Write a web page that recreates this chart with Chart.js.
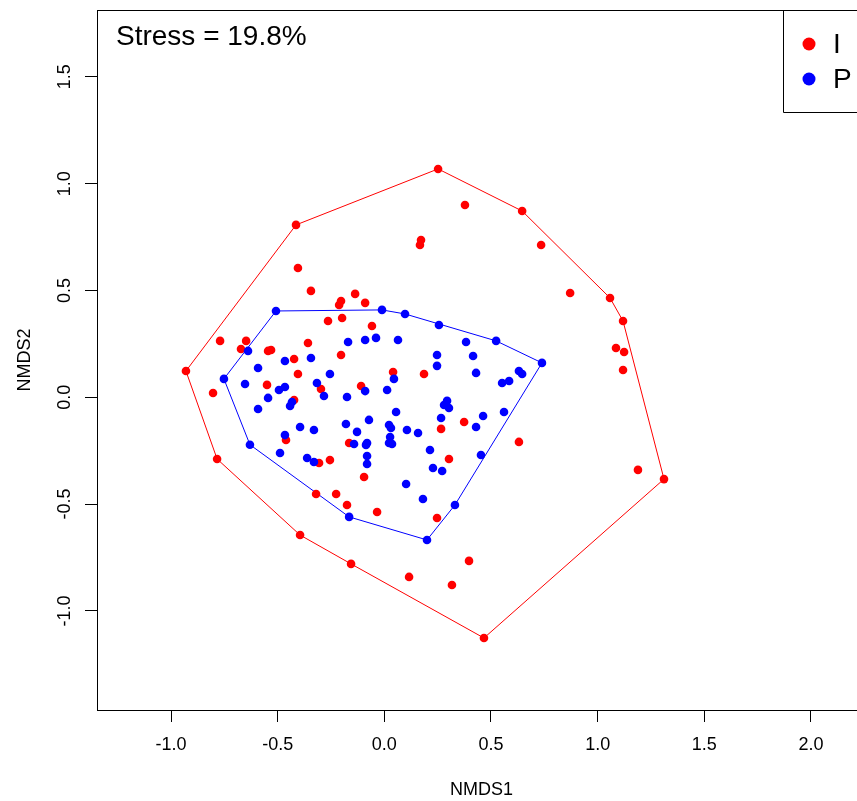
<!DOCTYPE html>
<html>
<head>
<meta charset="utf-8">
<title>NMDS ordination</title>
<script src="https://cdn.jsdelivr.net/npm/chart.js@4.4.1/dist/chart.umd.min.js"></script>
<style>
  html, body { margin: 0; padding: 0; background: #fff; overflow: hidden; }
  #wrap { width: 857px; height: 801px; overflow: hidden; }
</style>
</head>
<body>
<div id="wrap"><canvas id="nmds" width="876" height="801"></canvas></div>
<script>
// groups and site scores (NMDS1 / NMDS2)
const groups = ['I', 'P'];
const groupColors = ['#ff0000', '#0000ff'];
const stressLabel = 'Stress = 19.8%';

const iX = [-0.930, -0.414, 0.252, 0.646, 1.058, 1.119, 1.311, 0.467, -0.156, -0.395,
  -0.784, -0.405, -0.344, -0.203, -0.212, -0.137, -0.090, -0.264, -0.198, -0.058,
  0.172, 0.167, 0.378, 0.735, 0.871, 1.086, 1.124, 1.119, 1.189, 0.631,
  0.374, 0.266, 0.303, 0.186, 0.041, -0.109, -0.297, -0.203, -0.358, -0.423,
  -0.405, -0.550, -0.545, -0.531, -0.648, -0.672, -0.770, -0.803, -0.423, -0.461,
  -0.165, -0.306, -0.255, -0.095, -0.320, -0.226, -0.175, -0.034, 0.247, 0.116,
  0.397, 0.317];
const iY = [0.123, 0.807, 1.069, 0.872, 0.465, 0.357, -0.383, -1.127, -0.780, -0.645,
  -0.289, 0.605, 0.498, 0.451, 0.432, 0.484, 0.442, 0.357, 0.371, 0.334,
  0.736, 0.713, 0.900, 0.713, 0.488, 0.231, 0.212, 0.128, -0.340, -0.209,
  -0.116, -0.148, -0.289, 0.109, 0.118, 0.053, 0.039, 0.198, 0.254, 0.179,
  0.109, 0.058, 0.217, 0.221, 0.264, 0.226, 0.264, 0.020, -0.013, -0.200,
  -0.214, -0.308, -0.294, -0.373, -0.453, -0.453, -0.504, -0.537, -0.565, -0.841,
  -0.766, -0.879];

const pX = [-0.508, -0.011, 0.097, 0.256, 0.524, 0.739, 0.331, 0.200, -0.165, -0.630,
  -0.752, -0.170, -0.090, -0.039, 0.064, -0.639, -0.466, -0.344, -0.592, -0.255,
  -0.653, -0.545, -0.494, -0.466, -0.316, -0.283, -0.175, -0.090, 0.013, 0.045,
  -0.592, -0.442, -0.433, 0.055, -0.395, -0.330, -0.180, -0.072, -0.128, 0.022,
  0.031, -0.466, -0.142, -0.081, -0.086, 0.027, 0.022, 0.036, -0.489, -0.362,
  -0.330, -0.081, -0.081, 0.383, 0.247, 0.247, 0.416, 0.430, 0.631, 0.646,
  0.552, 0.585, 0.294, 0.280, 0.303, 0.266, 0.463, 0.561, 0.430, 0.106,
  0.158, 0.214, 0.453, 0.228, 0.271, 0.102, 0.181];
const pY = [0.404, 0.409, 0.390, 0.338, 0.264, 0.161, -0.504, -0.668, -0.560, -0.222,
  0.086, 0.259, 0.268, 0.278, 0.268, 0.217, 0.170, 0.184, 0.137, 0.109,
  0.062, -0.003, 0.034, 0.048, 0.067, 0.006, 0.001, 0.029, 0.034, 0.086,
  -0.055, -0.041, -0.022, -0.069, -0.139, -0.153, -0.125, -0.106, -0.162, -0.130,
  -0.144, -0.177, -0.219, -0.214, -0.223, -0.186, -0.214, -0.219, -0.261, -0.284,
  -0.303, -0.275, -0.312, 0.259, 0.198, 0.147, 0.193, 0.114, 0.123, 0.109,
  0.067, 0.076, -0.017, -0.036, -0.050, -0.097, -0.088, -0.069, -0.139, -0.153,
  -0.167, -0.247, -0.270, -0.331, -0.345, -0.406, -0.476];

const xTicks = [-1.0, -0.5, 0.0, 0.5, 1.0, 1.5, 2.0];
const yTicks = [-1.0, -0.5, 0.0, 0.5, 1.0, 1.5];

const xLimits = [-1.347, 2.258];
const yLimits = [-1.464, 1.813];

const fontFamily = '"Liberation Sans", Arial, sans-serif';

const toPoints = (xs, ys) => xs.map((x, i) => ({ x, y: ys[i] }));

// convex hull (monotone chain), returned as a closed ring
function convexHull(points) {
  const pts = points.slice().sort((a, b) => a.x - b.x || a.y - b.y);
  const cross = (o, a, b) => (a.x - o.x) * (b.y - o.y) - (a.y - o.y) * (b.x - o.x);
  const lower = [];
  pts.forEach((p) => {
    while (lower.length >= 2 && cross(lower[lower.length - 2], lower[lower.length - 1], p) <= 0) lower.pop();
    lower.push(p);
  });
  const upper = [];
  pts.slice().reverse().forEach((p) => {
    while (upper.length >= 2 && cross(upper[upper.length - 2], upper[upper.length - 1], p) <= 0) upper.pop();
    upper.push(p);
  });
  const hull = lower.slice(0, -1).concat(upper.slice(0, -1));
  hull.push(hull[0]);
  return hull;
}

const groupPoints = [toPoints(iX, iY), toPoints(pX, pY)];

const pointSets = groups.map((name, g) => ({
  label: name,
  data: groupPoints[g],
  order: g === 0 ? 1 : 0,
  pointRadius: 4.3,
  pointHoverRadius: 4.3,
  pointBorderWidth: 0,
  pointBackgroundColor: groupColors[g],
  borderColor: groupColors[g],
  showLine: false,
}));

const hullSets = groups.map((name, g) => ({
  label: name + ' hull',
  data: convexHull(groupPoints[g]),
  order: 2 + g,
  showLine: true,
  pointRadius: 0,
  borderColor: groupColors[g],
  borderWidth: 1,
  tension: 0,
  fill: false,
}));

// plot frame, stress note and legend box
const framePlugin = {
  id: 'frame',
  afterDraw(chart) {
    const { ctx, chartArea } = chart;
    const { left, top, right, bottom } = chartArea;
    ctx.save();
    ctx.strokeStyle = '#000';
    ctx.lineWidth = 1;
    ctx.strokeRect(Math.round(left) + 0.5, Math.round(top) + 0.5,
      Math.round(right - left), Math.round(bottom - top));

    ctx.fillStyle = '#000';
    ctx.font = `28px ${fontFamily}`;
    ctx.textBaseline = 'alphabetic';
    ctx.textAlign = 'left';
    ctx.fillText(stressLabel, 116, 45);

    // legend
    const boxLeft = 783.5;
    ctx.beginPath();
    ctx.moveTo(boxLeft, top);
    ctx.lineTo(boxLeft, 112.5);
    ctx.lineTo(right + 20, 112.5);
    ctx.stroke();

    groups.forEach((name, g) => {
      const cy = 44 + g * 35;
      ctx.fillStyle = groupColors[g];
      ctx.beginPath();
      ctx.arc(809, cy, 6.5, 0, Math.PI * 2);
      ctx.fill();
      ctx.fillStyle = '#000';
      ctx.textBaseline = 'middle';
      ctx.fillText(name, 833, cy + 1);
    });
    ctx.restore();
  },
};

const tickFont = { family: fontFamily, size: 18 };

new Chart(document.getElementById('nmds'), {
  type: 'scatter',
  data: { datasets: pointSets.concat(hullSets) },
  options: {
    responsive: false,
    animation: false,
    layout: { padding: { left: 0, top: 10, right: 10, bottom: 0 } },
    plugins: {
      legend: { display: false },
      tooltip: { enabled: false },
    },
    scales: {
      x: {
        type: 'linear',
        min: xLimits[0],
        max: xLimits[1],
        afterBuildTicks: (scale) => { scale.ticks = xTicks.map((value) => ({ value })); },
        afterFit: (scale) => {
          scale.height = 91;
          scale.paddingLeft = 0;
          scale.paddingRight = 0;
        },
        grid: { drawOnChartArea: false, drawTicks: true, tickLength: 12, color: '#000', lineWidth: 1 },
        border: { display: false },
        ticks: {
          color: '#000',
          font: tickFont,
          padding: 12,
          maxRotation: 0,
          autoSkip: false,
          callback: (v) => Number(v).toFixed(1),
        },
        title: {
          display: true,
          text: 'NMDS1',
          color: '#000',
          font: tickFont,
          padding: { top: 0, bottom: 0 },
        },
      },
      y: {
        type: 'linear',
        min: yLimits[0],
        max: yLimits[1],
        afterBuildTicks: (scale) => { scale.ticks = yTicks.map((value) => ({ value })); },
        afterFit: (scale) => {
          scale.width = 97;
          scale.paddingTop = 0;
          scale.paddingBottom = 0;
        },
        grid: { drawOnChartArea: false, drawTicks: true, tickLength: 12, color: '#000', lineWidth: 1 },
        border: { display: false },
        ticks: {
          color: '#000',
          font: tickFont,
          padding: 4,
          minRotation: 90,
          maxRotation: 90,
          crossAlign: 'center',
          autoSkip: false,
          callback: (v) => Number(v).toFixed(1),
        },
        title: {
          display: true,
          text: 'NMDS2',
          color: '#000',
          font: tickFont,
          padding: { top: 14, bottom: 0 },
        },
      },
    },
  },
  plugins: [framePlugin],
});
</script>
</body>
</html>
